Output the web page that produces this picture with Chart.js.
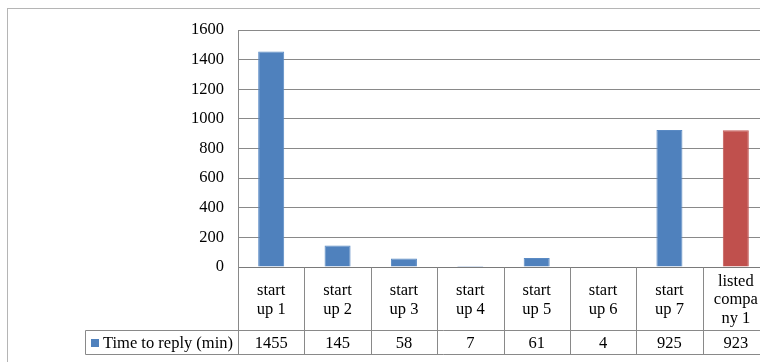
<!DOCTYPE html>
<html>
<head>
<meta charset="utf-8">
<script src="https://cdn.jsdelivr.net/npm/chart.js@4.4.1/dist/chart.umd.min.js"></script>
<style>
  html, body { margin: 0; padding: 0; background: #fff; overflow: hidden; }
  #wrap { width: 760px; height: 362px; overflow: hidden; position: relative; }
  #wrap canvas { position: absolute; left: 0; top: 0; }
</style>
</head>
<body>
<div id="wrap"><canvas id="chart" width="800" height="362"></canvas></div>
<script>
// Category names, one entry per line of the wrapped cell text
const categories = [
  ['start', 'up 1'],
  ['start', 'up 2'],
  ['start', 'up 3'],
  ['start', 'up 4'],
  ['start', 'up 5'],
  ['start', 'up 6'],
  ['start', 'up 7'],
  ['listed', 'compa', 'ny 1']
];
const seriesName = 'Time to reply (min)';
const replyMinutes = [1455, 145, 58, 7, 61, 4, 925, 923];
const barColors = ['#4F81BD', '#4F81BD', '#4F81BD', '#4F81BD', '#4F81BD', '#4F81BD', '#4F81BD', '#C0504D'];
const yMin = 0;
const yMax = 1600;
const yStep = 200;

const FAMILY = "'Liberation Serif', 'Times New Roman', serif";
const FSIZE = 16.5;
const FONT = FSIZE + 'px ' + FAMILY;
const LINE = '#898989';

// Outer frame of the chart object
const framePlugin = {
  id: 'frame',
  beforeDraw(chart) {
    const ctx = chart.ctx;
    ctx.save();
    ctx.strokeStyle = '#b5b5b5';
    ctx.lineWidth = 1;
    ctx.strokeRect(7.5, 8.5, 1000, 1000);
    ctx.restore();
  }
};

// Data table under the plot: category row, then legend key + values row
const tablePlugin = {
  id: 'dataTable',
  afterDraw(chart) {
    const ctx = chart.ctx;
    const a = chart.chartArea;
    const x = chart.scales.x;
    const n = categories.length;
    const cw = (a.right - a.left) / n;
    const top = Math.round(a.bottom) + 0.5;
    const mid = top + 63;
    const bot = mid + 24;
    const keyLeft = 85.5;

    ctx.save();
    ctx.strokeStyle = LINE;
    ctx.lineWidth = 1;
    ctx.beginPath();
    // horizontal rules
    ctx.moveTo(keyLeft, mid); ctx.lineTo(a.right + 40, mid);
    ctx.moveTo(keyLeft, bot); ctx.lineTo(a.right + 40, bot);
    // left edge of legend cell
    ctx.moveTo(keyLeft, mid); ctx.lineTo(keyLeft, bot);
    // column separators
    for (let i = 0; i <= n; i++) {
      const px = Math.round(a.left + i * cw) + 0.5;
      ctx.moveTo(px, top); ctx.lineTo(px, bot);
    }
    ctx.stroke();

    ctx.fillStyle = '#000';
    ctx.font = FONT;
    ctx.textAlign = 'center';
    ctx.textBaseline = 'middle';
    const lh = 18.5;
    categories.forEach((lines, i) => {
      const cx = x.getPixelForValue(i);
      const cy = (top + mid) / 2;
      const y0 = cy - (lines.length - 1) * lh / 2;
      lines.forEach((t, j) => ctx.fillText(t, cx, y0 + j * lh + 1));
      ctx.fillText(String(replyMinutes[i]), cx, (mid + bot) / 2 + 1);
    });

    // legend key in the values row
    const ky = (mid + bot) / 2;
    ctx.fillStyle = barColors[0];
    ctx.fillRect(91, Math.round(ky) - 4, 8, 8);
    ctx.fillStyle = '#000';
    ctx.textAlign = 'left';
    ctx.fillText(seriesName, 103, ky + 1);
    ctx.restore();
  }
};

new Chart(document.getElementById('chart'), {
  type: 'bar',
  data: {
    labels: categories,
    datasets: [{
      label: seriesName,
      data: replyMinutes,
      backgroundColor: barColors,
      borderColor: barColors.map(c => c === '#C0504D' ? '#c45a57' : '#5a8ac4'),
      borderWidth: 1,
      categoryPercentage: 0.4,
      barPercentage: 0.98
    }]
  },
  options: {
    responsive: false,
    animation: false,
    devicePixelRatio: 1,
    layout: { padding: { left: 0, right: 31, top: 30, bottom: 95 } },
    plugins: {
      legend: { display: false },
      tooltip: { enabled: false }
    },
    scales: {
      x: { display: false },
      y: {
        min: yMin,
        max: yMax,
        afterFit(scale) { scale.width = 238; },
        ticks: {
          stepSize: yStep,
          color: '#000',
          padding: 14,
          callback: v => String(v),
          font: { family: FAMILY, size: FSIZE }
        },
        grid: {
          drawTicks: false,
          color: ctx => ctx.tick && ctx.tick.value === 0 ? '#7a7a7a' : LINE,
          lineWidth: 1
        },
        border: { display: true, color: LINE }
      }
    }
  },
  plugins: [framePlugin, tablePlugin]
});
</script>
</body>
</html>
